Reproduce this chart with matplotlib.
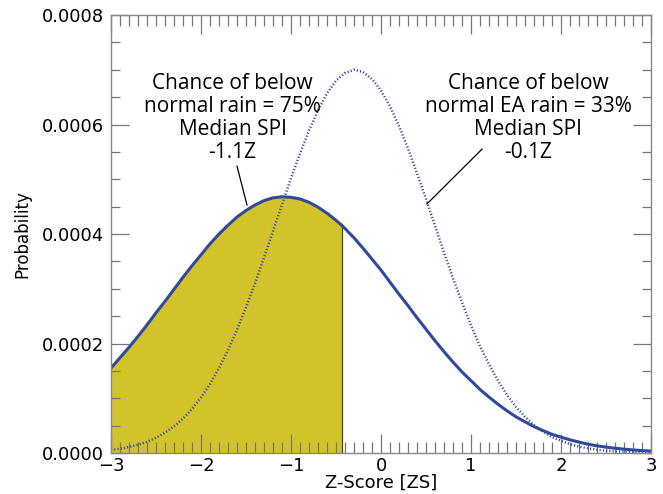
import numpy as np
import matplotlib
matplotlib.use('Agg')
from matplotlib import pyplot as plt
from matplotlib.ticker import MultipleLocator

# values, probability in units of 1e-4
z_solid = [-3.0, -2.9, -2.8, -2.7, -2.6, -2.5, -2.4, -2.3, -2.2, -2.1, -2.0, -1.9, -1.8,
           -1.7, -1.6, -1.5, -1.4, -1.3, -1.2, -1.1, -1.0, -0.9, -0.8, -0.7, -0.6, -0.5,
           -0.43, -0.4, -0.3, -0.2, -0.1, 0.0, 0.1, 0.2, 0.3, 0.4, 0.5, 0.6, 0.7, 0.8,
           0.9, 1.0, 1.1, 1.2, 1.3, 1.4, 1.5, 1.6, 1.7, 1.8, 1.9, 2.0, 2.1, 2.2, 2.3,
           2.4, 2.5, 2.6, 2.7, 2.8, 2.9, 3.0]
p_solid = [1.55, 1.74, 1.93, 2.13, 2.34, 2.56, 2.77, 2.99, 3.21, 3.42, 3.62, 3.82, 4.00,
           4.16, 4.31, 4.43, 4.53, 4.61, 4.66, 4.68, 4.67, 4.64, 4.58, 4.49, 4.38, 4.25,
           4.15, 4.10, 3.93, 3.74, 3.54, 3.34, 3.12, 2.90, 2.69, 2.47, 2.26, 2.05, 1.85, 1.66,
           1.48, 1.32, 1.16, 1.02, 0.89, 0.77, 0.66, 0.57, 0.48, 0.41, 0.34, 0.29, 0.24, 0.20, 0.16,
           0.13, 0.108, 0.087, 0.070, 0.056, 0.044, 0.035]

z_dot = [-3.0, -2.9, -2.8, -2.7, -2.6, -2.5, -2.4, -2.3, -2.2, -2.1, -2.0, -1.9, -1.8,
         -1.7, -1.6, -1.5, -1.4, -1.3, -1.2, -1.1, -1.0, -0.9, -0.8, -0.7, -0.6, -0.5,
         -0.4, -0.3, -0.2, -0.1, 0.0, 0.1, 0.2, 0.3, 0.4, 0.5, 0.6, 0.7, 0.8,
         0.9, 1.0, 1.1, 1.2, 1.3, 1.4, 1.5, 1.6, 1.7, 1.8, 1.9, 2.0, 2.1, 2.2, 2.3,
         2.4, 2.5, 2.6, 2.7, 2.8, 2.9, 3.0]
p_dot = [0.055, 0.078, 0.109, 0.151, 0.206, 0.278, 0.370, 0.486, 0.629, 0.804, 1.015, 1.26, 1.55,
         1.88, 2.25, 2.66, 3.10, 3.57, 4.05, 4.54, 5.02, 5.47, 5.89, 6.26, 6.57, 6.80,
         6.94, 7.00, 6.96, 6.83, 6.62, 6.33, 5.97, 5.56, 5.11, 4.64, 4.15, 3.66, 3.19,
         2.75, 2.33, 1.95, 1.62, 1.32, 1.06, 0.84, 0.66, 0.51, 0.39, 0.29, 0.22, 0.161, 0.117, 0.083,
         0.059, 0.041, 0.028, 0.019, 0.013, 0.0084, 0.0055]

shade_end = -0.43
label_left = "Chance of below\nnormal rain = 75%\nMedian SPI\n-1.1Z"
label_right = "Chance of below\nnormal EA rain = 33%\nMedian SPI\n-0.1Z"

zs = np.array(z_solid)
ps = np.array(p_solid) * 1e-4
zd = np.array(z_dot)
pd_ = np.array(p_dot) * 1e-4

blue = '#2f4a9c'
fig = plt.figure(figsize=(6.63, 4.94), dpi=100)
ax = fig.add_axes([0.1674, 0.083, 0.8146, 0.8866])

m = zs <= shade_end
ax.fill_between(zs[m], 0, ps[m], color='#d2c32b', lw=0)
ax.plot([shade_end, shade_end], [0, ps[m][-1]], color='#4a4420', lw=0.9)
ax.plot(zd, pd_, color=blue, lw=1.8, ls=(0, (0.45, 0.85)))
ax.plot(zs, ps, color=blue, lw=2.2)

ax.set_xlim(-3, 3)
ax.set_ylim(0, 0.0008)
ax.xaxis.set_major_locator(MultipleLocator(1))
ax.xaxis.set_minor_locator(MultipleLocator(0.1))
ax.yaxis.set_major_locator(MultipleLocator(0.0002))
ax.yaxis.set_minor_locator(MultipleLocator(0.00005))
ax.yaxis.set_major_formatter(plt.FuncFormatter(lambda v, p: '%.4f' % v))
ax.tick_params(which='both', direction='in', top=True, right=True, colors='#777777',
               labelcolor='black', labelsize=13, width=0.9)
ax.tick_params(axis='x', which='major', length=14, pad=3)
ax.tick_params(axis='x', which='minor', length=8)
ax.tick_params(axis='y', which='major', length=13, pad=5)
ax.tick_params(axis='y', which='minor', length=6.5)
for s in ax.spines.values():
    s.set_color('#888888')
    s.set_linewidth(1.0)

ax.set_xlabel('Z-Score [ZS]', fontsize=13, labelpad=-1)
ax.set_ylabel('Probability', fontsize=12, labelpad=7.5)

# annotations
ax.text(-1.65, 0.000612, label_left, ha='center', va='center', fontsize=15,
        family='Open Sans', linespacing=1.12)
ax.text(1.633, 0.000612, label_right, ha='center', va='center', fontsize=15,
        family='Open Sans', linespacing=1.12)
ax.plot([-1.60, -1.489], [0.000524, 0.000453], color='black', lw=0.9)
ax.plot([1.122, 0.511], [0.000555, 0.000455], color='black', lw=0.9)

plt.savefig('out.png', dpi=100)
